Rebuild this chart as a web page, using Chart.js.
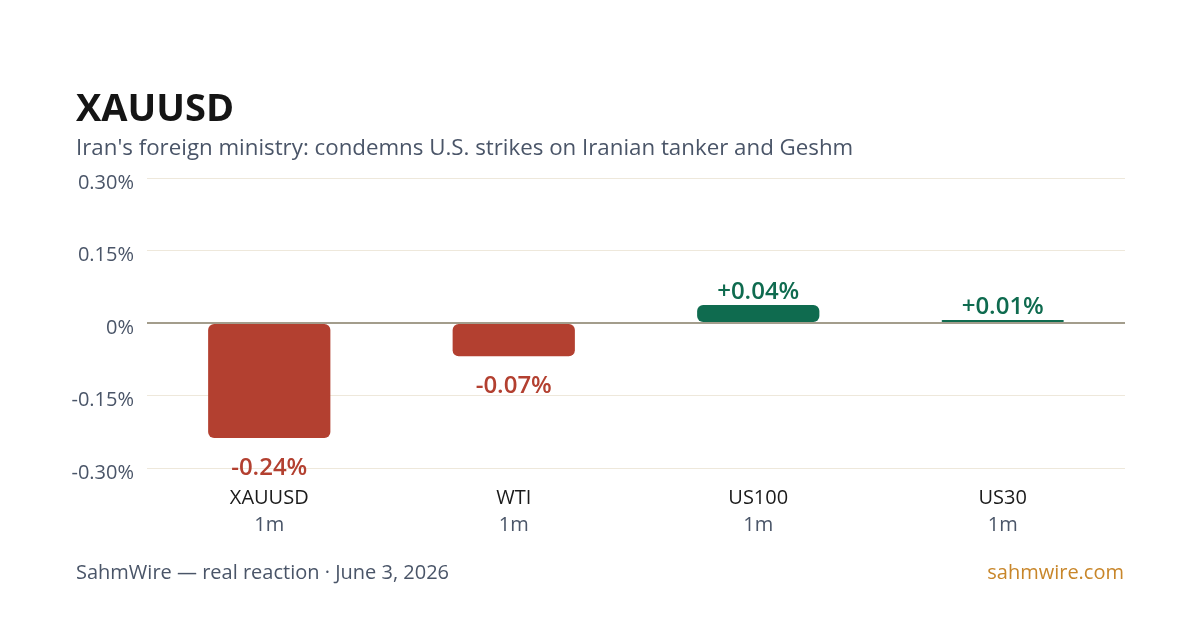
<!DOCTYPE html>
<html>
<head>
<meta charset="utf-8">
<script src="https://cdn.jsdelivr.net/npm/chart.js@4"></script>
<style>
  html, body { margin: 0; padding: 0; background: #ffffff; }
  body { width: 1200px; height: 630px; position: relative; overflow: hidden; font-family: "Open Sans", sans-serif; }
  #title { position: absolute; left: 76px; top: 80px; font-size: 38px; font-weight: 700; color: #151515; }
  #subtitle { position: absolute; left: 76px; top: 131px; font-size: 22.3px; color: #4a5568; }
  #source { position: absolute; left: 76px; top: 558px; font-size: 20px; color: #4a5568; }
  #site { position: absolute; right: 76px; top: 558px; font-size: 20px; color: #c8862a; }
  #wrap { position: absolute; left: 0; top: 0; width: 1200px; height: 630px; }
</style>
</head>
<body>
<div id="wrap"><canvas id="reaction" width="1200" height="630"></canvas></div>
<div id="title">XAUUSD</div>
<div id="subtitle">Iran's foreign ministry: condemns U.S. strikes on Iranian tanker and Geshm</div>
<div id="source">SahmWire — real reaction · June 3, 2026</div>
<div id="site">sahmwire.com</div>
<script>
// values (percent change)
var symbols = ["XAUUSD", "WTI", "US100", "US30"];
var windows = ["1m", "1m", "1m", "1m"];
var changes = [-0.238, -0.069, 0.037, 0.006];
var yTicks = [-0.30, -0.15, 0, 0.15, 0.30];

var UP = "#0f6b4f";
var DOWN = "#b34030";

function fmtTick(v) {
    if (v === 0) return "0%";
    return v.toFixed(2) + "%";
}

// draws the +0.04% style numbers next to each bar
var valueLabels = {
    id: "valueLabels",
    afterDatasetsDraw: function (chart) {
        var ctx = chart.ctx;
        var meta = chart.getDatasetMeta(0);
        ctx.save();
        ctx.font = "600 24px 'Open Sans'";
        ctx.textAlign = "center";
        ctx.textBaseline = "middle";
        meta.data.forEach(function (bar, i) {
            var v = changes[i];
            ctx.fillStyle = v >= 0 ? UP : DOWN;
            if (v >= 0) {
                ctx.fillText("+" + v.toFixed(2) + "%", bar.x, bar.y - 13);
            } else {
                ctx.fillText(v.toFixed(2) + "%", bar.x, bar.y + 30);
            }
        });
        ctx.restore();
    }
};

// second line under each symbol (time window), in grey
var windowLabels = {
    id: "windowLabels",
    afterDraw: function (chart) {
        var ctx = chart.ctx;
        var xs = chart.scales.x;
        ctx.save();
        ctx.font = "20px 'Open Sans'";
        ctx.fillStyle = "#4a5568";
        ctx.textAlign = "center";
        ctx.textBaseline = "middle";
        windows.forEach(function (w, i) {
            ctx.fillText(w, xs.getPixelForValue(i), chart.chartArea.bottom + 57);
        });
        ctx.restore();
    }
};

var ctx = document.getElementById("reaction").getContext("2d");
var chartReaction = new Chart(ctx, {
    type: "bar",
    data: {
        labels: symbols,
        datasets: [{
            data: changes,
            backgroundColor: changes.map(function (v) { return v >= 0 ? UP : DOWN; }),
            borderRadius: 6,
            borderSkipped: false,
            barPercentage: 0.5,
            categoryPercentage: 1.0
        }]
    },
    options: {
        responsive: false,
        animation: false,
        layout: {
            padding: { top: 178, right: 75, bottom: 114, left: 0 }
        },
        plugins: {
            legend: { display: false },
            tooltip: { enabled: false }
        },
        scales: {
            y: {
                min: -0.30,
                max: 0.30,
                afterBuildTicks: function (scale) {
                    scale.ticks = yTicks.map(function (v) { return { value: v }; });
                },
                afterFit: function (scale) { scale.width = 147; },
                border: { display: false },
                grid: {
                    drawTicks: false,
                    color: function (c) { return c.tick && c.tick.value === 0 ? "#a39d8c" : "#eee8db"; },
                    lineWidth: function (c) { return c.tick && c.tick.value === 0 ? 2 : 1; }
                },
                ticks: {
                    padding: 13,
                    labelOffset: 5,
                    color: "#4a5568",
                    font: { family: "Open Sans", size: 20 },
                    callback: function (v) { return fmtTick(v); }
                }
            },
            x: {
                afterFit: function (scale) { scale.height = 48; },
                border: { display: false },
                grid: { display: false },
                ticks: {
                    padding: 10,
                    color: "#1a1a1a",
                    font: { family: "Open Sans", size: 20 }
                }
            }
        }
    },
    plugins: [valueLabels, windowLabels]
});
</script>
</body>
</html>
